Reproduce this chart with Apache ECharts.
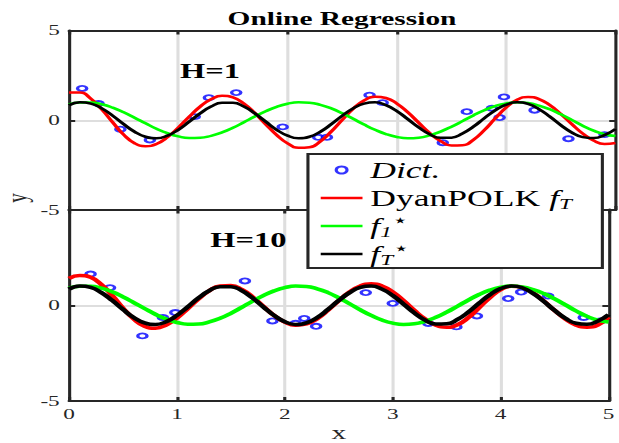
<!DOCTYPE html>
<html><head><meta charset="utf-8">
<script src="https://cdn.jsdelivr.net/npm/echarts@6/dist/echarts.min.js"></script>
<style>
html,body{margin:0;padding:0;background:#fff;overflow:hidden;width:619px;height:443px;}
#wrap{width:619px;height:443px;overflow:hidden;}
#chart{width:400px;height:443px;transform:scaleX(1.5475);transform-origin:0 0;}
</style></head><body><div id="wrap"><div id="chart"></div></div>
<script>
// ---- data ----
const xGrid = [0,0.1,0.2,0.3,0.4,0.5,0.6,0.7,0.8,0.9,1.0,1.1,1.2,1.3,1.4,1.5,1.6,1.7,1.8,1.9,2.0,2.1,2.2,2.3,2.4,2.5,2.6,2.7,2.8,2.9,3.0,3.1,3.2,3.3,3.4,3.5,3.6,3.7,3.8,3.9,4.0,4.1,4.2,4.3,4.4,4.5,4.6,4.7,4.8,4.9,5.0];
const f1Star = [0.89,0.99,0.99,0.89,0.70,0.44,0.14,-0.17,-0.47,-0.72,-0.90,-0.99,-0.98,-0.87,-0.68,-0.42,-0.11,0.21,0.50,0.75,0.92,1.00,0.98,0.86,0.66,0.39,0.08,-0.24,-0.53,-0.77,-0.93,-1.00,-0.97,-0.84,-0.63,-0.36,-0.05,0.27,0.56,0.79,0.94,1.00,0.96,0.82,0.61,0.33,0.02,-0.30,-0.58,-0.78,-0.88];
const fTStar = [0.84,1.00,0.93,0.66,0.25,-0.22,-0.64,-0.92,-1.00,-0.86,-0.53,-0.08,0.38,0.76,0.97,0.97,0.76,0.38,-0.08,-0.53,-0.86,-1.00,-0.92,-0.64,-0.22,0.25,0.66,0.93,1.00,0.84,0.51,0.06,-0.40,-0.78,-0.98,-0.97,-0.74,-0.36,0.11,0.55,0.87,1.00,0.91,0.62,0.20,-0.27,-0.68,-0.94,-0.99,-0.83,-0.49];
const polkH1 = [1.54,1.54,1.20,0.60,-0.12,-0.80,-1.28,-1.45,-1.32,-0.95,-0.41,0.20,0.76,1.17,1.36,1.27,0.93,0.40,-0.22,-0.82,-1.29,-1.53,-1.50,-1.18,-0.63,0.02,0.64,1.10,1.31,1.24,0.93,0.44,-0.14,-0.71,-1.16,-1.40,-1.39,-1.09,-0.55,0.10,0.71,1.14,1.30,1.18,0.84,0.35,-0.21,-0.74,-1.13,-1.32,-1.27];
const polkH10 = [1.40,1.55,1.46,1.08,0.51,-0.15,-0.72,-1.10,-1.20,-1.03,-0.67,-0.18,0.33,0.76,1.01,1.03,0.83,0.44,-0.05,-0.53,-0.88,-1.05,-0.98,-0.70,-0.26,0.24,0.69,1.01,1.12,1.01,0.69,0.24,-0.27,-0.72,-1.04,-1.15,-1.02,-0.65,-0.13,0.40,0.81,0.99,0.93,0.65,0.22,-0.27,-0.72,-1.04,-1.15,-1.03,-0.62];
const dictH1X = [0.12,0.27,0.47,0.74,1.15,1.28,1.53,1.955,2.28,2.36,2.75,2.87,3.42,3.64,3.87,3.98,3.94,4.26,4.57,4.90];
const dictH1Y = [1.77,0.93,-0.50,-1.10,0.20,1.26,1.54,-0.37,-0.95,-0.95,1.40,0.98,-1.25,0.48,0.67,1.30,0.15,0.56,-1.03,-0.80];
const dictH10X = [0.20,0.38,0.68,0.87,0.985,1.63,1.885,2.10,2.18,2.29,2.75,3.00,3.33,3.59,3.78,4.07,4.19,4.44,4.77,4.92];
const dictH10Y = [1.63,0.92,-1.60,-0.64,-0.38,1.27,-0.82,-0.94,-0.69,-1.10,0.66,0.10,-0.95,-1.13,-0.56,0.35,0.69,0.48,-0.64,-0.82];
const xTicks = [0,1,2,3,4,5];
const yTicks = [-5,0,5];

// ---- chart ----
const FONT = '"Liberation Serif", "Times New Roman", serif';
const AX = '#262626';
const pairs = (xs, ys) => xs.map((x, i) => [x, ys[i]]);

function xAx(grid, pos, labels, name) {
  return {
    type: 'value', gridIndex: grid, position: pos,
    min: xTicks[0], max: xTicks[xTicks.length - 1], interval: 1,
    name: name || '', nameLocation: 'middle', nameGap: 22,
    nameTextStyle: {fontFamily: FONT, fontSize: 19, color: AX},
    axisLine: {show: true, onZero: false, lineStyle: {color: AX, width: 2}},
    axisTick: {show: true, inside: true, length: 4, lineStyle: {color: AX, width: 2}},
    axisLabel: {show: labels, fontFamily: FONT, fontSize: 15, color: AX, margin: 6},
    splitLine: {show: pos === 'bottom', showMinLine: false, showMaxLine: false, lineStyle: {color: '#dedede', width: 2}}
  };
}
function yAx(grid, pos, labels, showMax) {
  return {
    type: 'value', gridIndex: grid, position: pos,
    min: yTicks[0], max: yTicks[yTicks.length - 1], interval: 5,
    axisLine: {show: true, onZero: false, lineStyle: {color: AX, width: 2}},
    axisTick: {show: true, inside: true, length: 4, lineStyle: {color: AX, width: 2}},
    axisLabel: {show: labels, fontFamily: FONT, fontSize: 15, color: AX, margin: 6, showMaxLabel: showMax},
    splitLine: {show: pos === 'left', showMinLine: false, showMaxLine: false, lineStyle: {color: '#dedede', width: 2}}
  };
}

function lineSeries(name, data, color, xi, yi, w) {
  return {type: 'line', name: name, xAxisIndex: xi, yAxisIndex: yi, data: pairs(xGrid, data),
    symbol: 'none', smooth: true, silent: true, lineStyle: {color: color, width: w}, itemStyle: {color: color}};
}
function dictSeries(xs, ys, xi, yi) {
  return {type: 'scatter', name: 'Dict.', xAxisIndex: xi, yAxisIndex: yi, data: pairs(xs, ys),
    symbol: 'emptyCircle', symbolSize: [6, 5], silent: true,
    itemStyle: {color: '#0000ff', borderColor: '#0000ff', borderWidth: 2}};
}

const legendNames = {
  'Dict.': '{it|Dict.}',
  'DyanPOLK': '{rm|DyanPOLK }{it|f}{sub|T}',
  'f1': '{it|f}{sub|1}{sup|\u22C6}',
  'fT': '{it|f}{sub|T}{sup|\u22C6}'
};
const hideSym = {opacity: 0, borderWidth: 0};

const option = {
  animation: false,
  grid: [
    {left: 44.6, top: 30.5, width: 353.1, height: 179.5},
    {left: 44.6, top: 209.5, width: 353.1, height: 192}
  ],
  xAxis: [xAx(0, 'bottom', false), xAx(0, 'top', false), xAx(1, 'bottom', true, 'x'), xAx(1, 'top', false)],
  yAxis: [yAx(0, 'left', true, true), yAx(0, 'right', false, true), yAx(1, 'left', true, false), yAx(1, 'right', false, false)],
  legend: {
    data: [
      {name: 'Dict.', icon: 'emptyCircle'},
      {name: 'DyanPOLK', itemStyle: hideSym},
      {name: 'f1', itemStyle: hideSym},
      {name: 'fT', itemStyle: hideSym}
    ],
    orient: 'vertical', left: 199, top: 154, padding: [2, 3, 0, 7],
    itemGap: 0, itemWidth: 27, itemHeight: 7, itemTextGap: 4,
    backgroundColor: '#fff', borderColor: AX, borderWidth: 2, borderRadius: 0,
    selectedMode: false, z: 10,
    lineStyle: {width: 2.5},
    formatter: n => legendNames[n],
    textStyle: {
      fontFamily: FONT, fontSize: 23, color: '#000', lineHeight: 28, width: 147,
      rich: {
        it: {fontFamily: FONT, fontSize: 23, fontStyle: 'italic', color: '#000', lineHeight: 28},
        rm: {fontFamily: FONT, fontSize: 23, color: '#000', lineHeight: 28},
        sub: {fontFamily: FONT, fontSize: 15, fontStyle: 'italic', color: '#000', lineHeight: 14, verticalAlign: 'bottom'},
        sup: {fontFamily: FONT, fontSize: 17, color: '#000', lineHeight: 14, verticalAlign: 'top'}
      }
    }
  },
  graphic: [
    {type: 'text', x: 221, y: 18, z: 100, silent: true, style: {text: 'Online Regression', fontFamily: FONT, fontWeight: 'bold', fontSize: 19, fill: '#000', align: 'center', verticalAlign: 'middle'}},
    {type: 'text', x: 135.7, y: 71, z: 100, silent: true, style: {text: 'H=1', fontFamily: FONT, fontWeight: 'bold', fontSize: 21, fill: '#000', align: 'center', verticalAlign: 'middle'}},
    {type: 'text', x: 160.5, y: 240, z: 100, silent: true, style: {text: 'H=10', fontFamily: FONT, fontWeight: 'bold', fontSize: 21, fill: '#000', align: 'center', verticalAlign: 'middle'}},
    {type: 'text', x: 11, y: 198, z: 100, rotation: Math.PI / 2, silent: true, style: {text: 'y', fontFamily: FONT, fontSize: 19, fill: AX, align: 'center', verticalAlign: 'middle'}}
  ],
  series: [
    dictSeries(dictH1X, dictH1Y, 0, 0),
    dictSeries(dictH10X, dictH10Y, 2, 2),
    lineSeries('DyanPOLK', polkH1, '#ff0000', 0, 0, 2.5),
    lineSeries('f1', f1Star, '#00ff00', 0, 0, 2.5),
    lineSeries('fT', fTStar, '#000000', 0, 0, 2.5),
    lineSeries('DyanPOLK', polkH10, '#ff0000', 2, 2, 3.5),
    lineSeries('f1', f1Star, '#00ff00', 2, 2, 3.5),
    lineSeries('fT', fTStar, '#000000', 2, 2, 3.5)
  ]
};
const chart = echarts.init(document.getElementById('chart'), null, {renderer: 'svg', width: 400, height: 443});
chart.setOption(option);
</script>
</body></html>
